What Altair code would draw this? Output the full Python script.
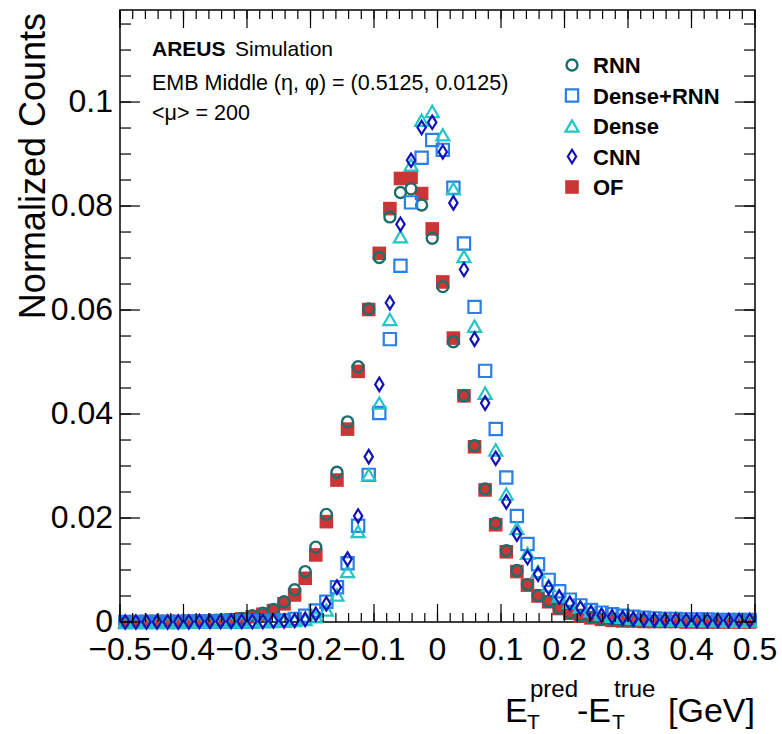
import altair as alt
import pandas as pd

# ---------------- data ----------------
n_bins = 60
x_lo, x_hi = -0.5, 0.5
bin_centers = [x_lo + (k + 0.5) * (x_hi - x_lo) / n_bins for k in range(n_bins)]

rnn = [0.0000, 0.0000, 0.0001, 0.0001, 0.0001, 0.0001, 0.0001, 0.0002, 0.0002, 0.0003,
       0.0005, 0.0007, 0.0012, 0.0017, 0.0024, 0.0039, 0.0062, 0.0097, 0.0144, 0.0207,
       0.0288, 0.0385, 0.0491, 0.0602, 0.0701, 0.0779, 0.0826, 0.0833, 0.0802, 0.0738,
       0.0645, 0.0539, 0.0435, 0.0339, 0.0256, 0.0190, 0.0137, 0.0099, 0.0072, 0.0051,
       0.0040, 0.0027, 0.0018, 0.0013, 0.0009, 0.0006, 0.0004, 0.0003, 0.0002, 0.0002,
       0.0001, 0.0001, 0.0001, 0.0001, 0.0000, 0.0000, 0.0000, 0.0000, 0.0000, 0.0000]

dense_rnn = [0.0000, 0.0000, 0.0000, 0.0000, 0.0000, 0.0000, 0.0001, 0.0001, 0.0001, 0.0001,
             0.0001, 0.0001, 0.0001, 0.0002, 0.0002, 0.0003, 0.0006, 0.0012, 0.0022, 0.0039,
             0.0067, 0.0113, 0.0185, 0.0283, 0.0402, 0.0544, 0.0685, 0.0807, 0.0893, 0.0927,
             0.0908, 0.0835, 0.0728, 0.0606, 0.0483, 0.0371, 0.0278, 0.0204, 0.0150, 0.0111,
             0.0081, 0.0059, 0.0043, 0.0032, 0.0023, 0.0018, 0.0015, 0.0012, 0.0010, 0.0008,
             0.0007, 0.0006, 0.0006, 0.0005, 0.0005, 0.0005, 0.0004, 0.0004, 0.0004, 0.0004]

dense = [0.0000, 0.0000, 0.0000, 0.0000, 0.0000, 0.0000, 0.0000, 0.0001, 0.0001, 0.0001,
         0.0001, 0.0001, 0.0001, 0.0001, 0.0002, 0.0002, 0.0003, 0.0005, 0.0010, 0.0023,
         0.0052, 0.0097, 0.0174, 0.0283, 0.0421, 0.0582, 0.0741, 0.0879, 0.0965, 0.0982,
         0.0937, 0.0833, 0.0703, 0.0569, 0.0440, 0.0331, 0.0246, 0.0180, 0.0132, 0.0097,
         0.0070, 0.0050, 0.0038, 0.0029, 0.0021, 0.0015, 0.0011, 0.0009, 0.0007, 0.0006,
         0.0005, 0.0004, 0.0004, 0.0003, 0.0003, 0.0003, 0.0003, 0.0002, 0.0002, 0.0002]

cnn = [0.0000, 0.0000, 0.0000, 0.0000, 0.0000, 0.0000, 0.0000, 0.0001, 0.0001, 0.0001,
       0.0001, 0.0001, 0.0001, 0.0001, 0.0002, 0.0002, 0.0003, 0.0005, 0.0015, 0.0035,
       0.0067, 0.0121, 0.0204, 0.0318, 0.0457, 0.0614, 0.0765, 0.0888, 0.0951, 0.0961,
       0.0904, 0.0806, 0.0678, 0.0544, 0.0421, 0.0315, 0.0231, 0.0169, 0.0124, 0.0092,
       0.0066, 0.0048, 0.0036, 0.0027, 0.0018, 0.0013, 0.0010, 0.0008, 0.0006, 0.0005,
       0.0004, 0.0004, 0.0004, 0.0003, 0.0003, 0.0003, 0.0003, 0.0003, 0.0003, 0.0003]

of = [0.0000, 0.0000, 0.0001, 0.0001, 0.0001, 0.0001, 0.0001, 0.0001, 0.0002, 0.0003,
      0.0004, 0.0006, 0.0010, 0.0015, 0.0022, 0.0035, 0.0052, 0.0084, 0.0129, 0.0193,
      0.0273, 0.0371, 0.0482, 0.0601, 0.0709, 0.0795, 0.0853, 0.0855, 0.0824, 0.0756,
      0.0654, 0.0546, 0.0435, 0.0337, 0.0254, 0.0187, 0.0135, 0.0097, 0.0071, 0.0050,
      0.0039, 0.0026, 0.0017, 0.0012, 0.0008, 0.0005, 0.0003, 0.0002, 0.0002, 0.0001,
      0.0001, 0.0001, 0.0001, 0.0000, 0.0000, 0.0000, 0.0000, 0.0000, 0.0000, 0.0000]

series_names = ["RNN", "Dense+RNN", "Dense", "CNN", "OF"]

x_tick_values = [-0.5, -0.4, -0.3, -0.2, -0.1, 0, 0.1, 0.2, 0.3, 0.4, 0.5]
x_tick_text = ["\u22120.5", "\u22120.4", "\u22120.3", "\u22120.2", "\u22120.1", "0",
               "0.1", "0.2", "0.3", "0.4", "0.5"]
x_minor_ticks = [round(-0.5 + 0.02 * i, 2) for i in range(51)]
y_tick_values = [0, 0.02, 0.04, 0.06, 0.08, 0.1]
y_tick_text = ["0", "0.02", "0.04", "0.06", "0.08", "0.1"]
y_minor_ticks = [round(0.005 * i, 3) for i in range(24)]

annotation_lines = ["EMB Middle (\u03b7, \u03c6) = (0.5125, 0.0125)", "<\u03bc> = 200"]

# ---------------- style ----------------
W, H = 635, 612
Y_MAX = 0.1177
SANS = "Liberation Sans, Arial, Helvetica, sans-serif"

xs = alt.Scale(domain=[x_lo, x_hi], nice=False, zero=False)
ys = alt.Scale(domain=[0, Y_MAX], nice=False, zero=False)

diamond_path = "M0,-1L0.62,0L0,1L-0.62,0Z"
styles = {
    "RNN": dict(shape="circle", color="#1d6e6a", size=120, filled=False, sw=2.4),
    "Dense+RNN": dict(shape="square", color="#2a7fe8", size=150, filled=False, sw=2.2),
    "Dense": dict(shape="triangle-up", color="#22c6c6", size=170, filled=False, sw=2.2),
    "CNN": dict(shape=diamond_path, color="#1212b8", size=180, filled=False, sw=2.2),
    "OF": dict(shape="square", color="#cc3535", size=185, filled=True, sw=0),
}
values_by_name = {"RNN": rnn, "Dense+RNN": dense_rnn, "Dense": dense, "CNN": cnn, "OF": of}


def mark_kw(name):
    st = styles[name]
    mk = dict(shape=st["shape"], size=st["size"], filled=st["filled"], opacity=1)
    if st["filled"]:
        mk.update(fill=st["color"], strokeWidth=0)
    else:
        mk.update(stroke=st["color"], strokeWidth=st["sw"])
    return mk


def series_layer(name):
    df = pd.DataFrame({"x": bin_centers, "y": values_by_name[name]})
    return alt.Chart(df).mark_point(**mark_kw(name)).encode(
        x=alt.X("x:Q", scale=xs, axis=None),
        y=alt.Y("y:Q", scale=ys, axis=None),
    )


def legend_layer(name, row):
    df = pd.DataFrame({"name": [name]})
    ypx = 55 + row * 30.5
    sym = alt.Chart(df).mark_point(**mark_kw(name)).encode(x=alt.value(452), y=alt.value(ypx))
    txt = alt.Chart(df).mark_text(font=SANS, fontSize=22, fontWeight="bold", align="left",
                                  baseline="middle", color="black").encode(
        x=alt.value(473), y=alt.value(ypx + 1), text="name:N")
    return [sym, txt]


def text_at(s, x, y, size, weight="normal", align="left", baseline="alphabetic", angle=0):
    df = pd.DataFrame({"t": [s]})
    kw = dict(font=SANS, fontSize=size, fontWeight=weight, align=align, baseline=baseline, color="black")
    if angle:
        kw["angle"] = angle
    return alt.Chart(df).mark_text(**kw).encode(x=alt.value(x), y=alt.value(y), text="t:N")


def ticks(vals, orient, length):
    df = pd.DataFrame({"v": vals})
    base = alt.Chart(df).mark_rule(color="black", strokeWidth=1.2)
    if orient == "left":
        return base.encode(y=alt.Y("v:Q", scale=ys, axis=None), x=alt.value(0), x2=alt.value(length))
    if orient == "right":
        return base.encode(y=alt.Y("v:Q", scale=ys, axis=None), x=alt.value(W - length), x2=alt.value(W))
    if orient == "bottom":
        return base.encode(x=alt.X("v:Q", scale=xs, axis=None), y=alt.value(H - length), y2=alt.value(H))
    return base.encode(x=alt.X("v:Q", scale=xs, axis=None), y=alt.value(0), y2=alt.value(length))


layers = []
for nm in ["OF", "RNN", "Dense+RNN", "Dense", "CNN"]:
    layers.append(series_layer(nm))

layers += [
    ticks(x_tick_values, "bottom", 18), ticks(x_minor_ticks, "bottom", 9),
    ticks(x_tick_values, "top", 18), ticks(x_minor_ticks, "top", 9),
    ticks(y_tick_values, "left", 20), ticks(y_minor_ticks, "left", 11),
    ticks(y_tick_values, "right", 20), ticks(y_minor_ticks, "right", 11),
]

# tick labels
xl = pd.DataFrame({"v": x_tick_values, "t": x_tick_text})
layers.append(alt.Chart(xl).mark_text(font=SANS, fontSize=32, align="center", baseline="alphabetic",
                                      color="black").encode(
    x=alt.X("v:Q", scale=xs, axis=None), y=alt.value(650), text="t:N"))
yl = pd.DataFrame({"v": y_tick_values, "t": y_tick_text})
layers.append(alt.Chart(yl).mark_text(font=SANS, fontSize=32, align="right", baseline="middle",
                                      color="black").encode(
    y=alt.Y("v:Q", scale=ys, axis=None), x=alt.value(-7), text="t:N"))

for i, nm in enumerate(series_names):
    layers += legend_layer(nm, i)

# annotation text
layers.append(text_at("AREUS", 32, 46, 21, weight="bold"))
layers.append(text_at("Simulation", 115, 46, 21))
layers.append(text_at(annotation_lines[0], 32, 80, 21.5))
layers.append(text_at(annotation_lines[1], 32, 110, 21.5))

# axis titles
layers.append(text_at("Normalized Counts", -86, 3, 36, align="right",
                      baseline="middle", angle=270))
layers.append(text_at("E", 385, 712, 34))
layers.append(text_at("pred", 410, 687, 24))
layers.append(text_at("T", 407, 719, 21))
layers.append(text_at("-E", 457, 712, 34))
layers.append(text_at("true", 494, 687, 24))
layers.append(text_at("T", 492, 719, 21))
layers.append(text_at("[GeV]", 635, 712, 34, align="right"))

chart = alt.layer(*layers).properties(
    width=W, height=H,
    padding={"left": 120, "top": 10, "right": 27, "bottom": 112},
    autosize=alt.AutoSizeParams(type="none"),
    background="white",
).configure_view(stroke="black", strokeWidth=1.5)

chart.save("out.html", embed_options={"renderer": "svg", "actions": False})
